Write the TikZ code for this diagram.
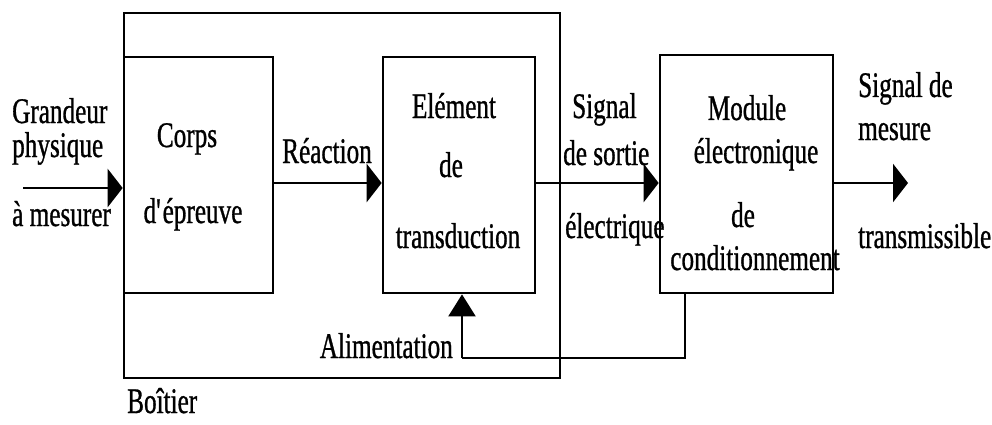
\documentclass[tikz,border=0pt]{standalone}
\usepackage{fontspec}
\setmainfont{Liberation Serif}[FakeStretch=0.7, FakeBold=0.8]
\usetikzlibrary{arrows.meta}
\tikzset{
  blk/.style={draw, line width=2.7pt, inner sep=0pt, rectangle},
  lbl/.style={inner sep=0pt, font=\fontsize{36}{40}\selectfont},
  arr/.style={line width=2.8pt, -{Triangle[length=15pt,width=38pt]}},
  arrsmall/.style={line width=2.2pt, -{Triangle[length=22pt,width=27pt]}},
  wire/.style={line width=2.2pt}
}
\begin{document}
\begin{tikzpicture}[x=1pt,y=-1pt]
\fill[white] (0,0) rectangle (992,425);
\useasboundingbox (0,0) rectangle (992,425);
% blocks
\node[blk, minimum width=436pt, minimum height=365pt] (outer) at (342,195.5) {};
\node[blk, minimum width=149pt, minimum height=236pt] (corps) at (198.5,175) {};
\node[blk, minimum width=152pt, minimum height=236pt] (trans) at (459,175) {};
\node[blk, minimum width=173pt, minimum height=238pt] (module) at (746.5,174) {};
% free ends
\coordinate (in) at (23,188);
\coordinate (out) at (908,183);
\coordinate (fbr) at (685,358);
\coordinate (fbl) at (462,358);
% connectors
\draw[arr] (in) -- (in -| corps.west);
\draw[arr] ([yshift=-8pt]corps.east) -- ([yshift=-8pt]trans.west);
\draw[arr] ([yshift=-8pt]trans.east) -- ([yshift=-9pt]module.west);
\draw[arr] (module.east |- out) -- (out);
\draw[wire] (fbr |- module.south) -- (fbr) -- (fbl);
\draw[arrsmall] (fbl) -- (fbl |- trans.south);
% labels
\node[lbl, anchor=base west] (g1) at (12,123) {Grandeur};
\node[lbl, anchor=base west] (g2) at (12,157) {physique};
\node[lbl, anchor=base west] (g3) at (12,226) {à mesurer};
\node[lbl, anchor=base] (c1) at (187,147) {Corps};
\node[lbl, anchor=base] (c2) at (193,223) {d\textquotesingle{}épreuve};
\node[lbl, anchor=base east] (rea) at (372,163) {Réaction};
\node[lbl, anchor=base] (e1) at (454,118) {Elément};
\node[lbl, anchor=base] (e2) at (451,177) {de};
\node[lbl, anchor=base] (e3) at (458,248) {transduction};
\node[lbl, anchor=base west] (s1) at (572,118) {Signal};
\node[lbl, anchor=base west] (s2) at (563,165) {de sortie};
\node[lbl, anchor=base west] (s3) at (565,238) {électrique};
\node[lbl, anchor=base east] (ali) at (453,358) {Alimentation};
\node[lbl, anchor=base] (m1) at (747,120) {Module};
\node[lbl, anchor=base] (m2) at (756,163) {électronique};
\node[lbl, anchor=base] (m3) at (743,227) {de};
\node[lbl, anchor=base] (m4) at (755,270) {conditionnement};
\node[lbl, anchor=base west] (o1) at (858,97) {Signal de};
\node[lbl, anchor=base west] (o2) at (858,140) {mesure};
\node[lbl, anchor=base west] (o3) at (858,248) {transmissible};
\node[lbl, anchor=base west] (boi) at (127,413) {Boîtier};
\end{tikzpicture}
\end{document}
